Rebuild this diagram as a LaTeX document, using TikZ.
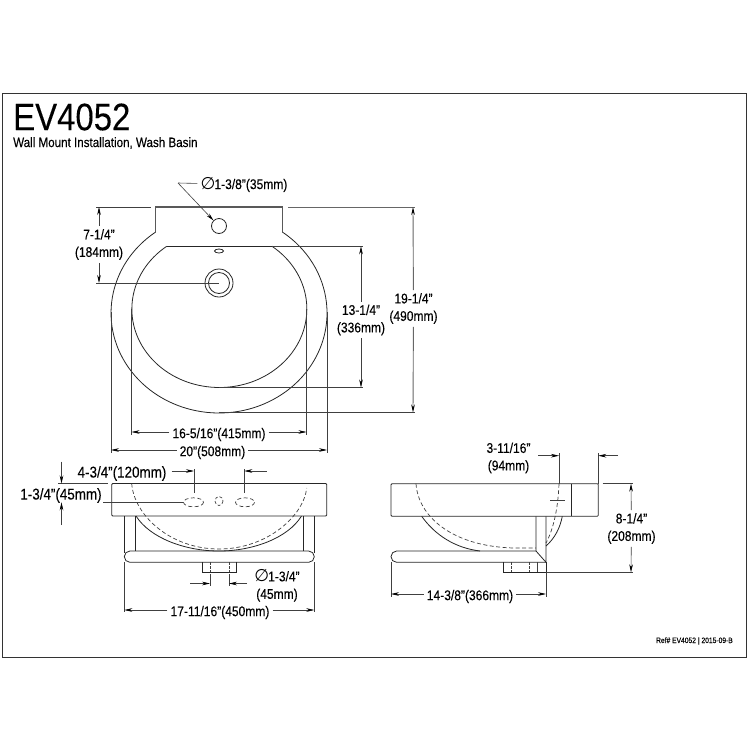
\documentclass[tikz,border=0pt]{standalone}
\usepackage{fontspec}
\setmainfont[FakeStretch=0.86,FakeBold=0.12]{Liberation Sans}
\newfontfamily\diafont{DejaVu Sans}
\usetikzlibrary{arrows.meta}
\newcommand{\dia}{{\diafont\fontsize{17}{17}\selectfont ∅}\hspace{-1pt}}
\tikzset{
  outline/.style={line width=0.8pt,black!85},
  hidden/.style={line width=0.7pt,black!75,dash pattern=on 4pt off 2.5pt},
  extline/.style={line width=0.6pt,black!75},
  dimline/.style={line width=0.6pt,black!75,-{Stealth[length=8pt,width=3.6pt,black]}},
  dimtext/.style={font=\fontsize{14}{17.5}\selectfont,inner sep=3pt,align=center,yshift=-1.5pt},
  dimwide/.style={dimtext,font=\fontsize{15.6}{17.5}\selectfont}
}
\begin{document}
\begin{tikzpicture}[x=1pt,y=-1pt]
\useasboundingbox (0,0) rectangle (750,750);
%%% frame and title %%%
  \draw[line width=0.9pt,black!80] (2.5,93) rectangle (746,657);
  \node (title) at (13,117) [anchor=west,inner sep=0pt,font=\fontsize{38.3}{40}\selectfont] {EV4052};
  \node (subtitle) at (13,143) [anchor=west,inner sep=0pt,font=\fontsize{13.5}{17}\selectfont] {Wall Mount Installation, Wash Basin};
  \node (ref) at (733,641) [anchor=east,inner sep=0pt,font=\fontsize{7.8}{9}\selectfont] {Ref\# EV4052 | 2015-09-B};

%%% top view %%%
  \draw[outline,line width=1.1pt,black!65] (155.7,232) -- (155.7,207) -- (282.7,207) -- (282.7,232);
  \draw[outline] (155.7,232) arc[start angle=234.1,end angle=-54.1,x radius=108,y radius=100];
  \draw[outline] (166.7,246.3) arc[start angle=233,end angle=-53,x radius=87.5,y radius=78.5];
  \draw[outline] (166.7,246.3) -- (272,246.3);
  \draw[outline] (219,226) circle (7.5);
  \draw[outline] (219,251) ellipse (4.5 and 2);
  \draw[outline] (219,283) circle (14) (219,283) circle (10.5);

  \draw[extline] (96,207) -- (150.7,207) (96,283) -- (219,283);
  \draw[extline] (272,246.3) -- (363,246.3) (219,387.5) -- (363,387.5);
  \draw[extline,black!60,line width=0.9pt] (288,207) -- (415,207);
  \draw[extline] (219,412.5) -- (415,412.5);
  \draw[extline] (131.5,309) -- (131.5,435) (306.5,309) -- (306.5,435);
  \draw[extline] (111,312) -- (111,453) (327,312) -- (327,453);

  \node (dHole) at (244,183) [dimtext] {\dia1-3/8"(35mm)};
  \coordinate (holeBend) at (178,183);
  \coordinate (holeTip) at (213.5,220.5);
  \draw[extline] (dHole) -- (holeBend);
  \draw[dimline] (holeBend) -- (holeTip);

  \node (dDrain) at (99,243) [dimtext] {7-1/4"\\(184mm)};
  \coordinate (dDrainA) at (99,207);
  \coordinate (dDrainB) at (99,283);
  \draw[dimline] (dDrain) -- (dDrainA);
  \draw[dimline] (dDrain) -- (dDrainB);

  \node (dBowlD) at (361,318.5) [dimtext] {13-1/4"\\(336mm)};
  \coordinate (dBowlDa) at (361,246.3);
  \coordinate (dBowlDb) at (361,387.5);
  \draw[dimline] (dBowlD) -- (dBowlDa);
  \draw[dimline] (dBowlD) -- (dBowlDb);

  \node (dDepth) at (413.5,307) [dimtext] {19-1/4"\\(490mm)};
  \coordinate (dDepthA) at (413,207);
  \coordinate (dDepthB) at (413,412.5);
  \draw[dimline,black!60,line width=0.9pt] (dDepth) -- (dDepthA);
  \draw[dimline,black!60,line width=0.9pt] (dDepth) -- (dDepthB);

  \node (dBowlW) at (219,433) [dimtext] {16-5/16"(415mm)};
  \coordinate (dBowlWa) at (131.5,432);
  \coordinate (dBowlWb) at (306.5,432);
  \draw[dimline] (dBowlW.west |- dBowlWa) -- (dBowlWa);
  \draw[dimline] (dBowlW.east |- dBowlWb) -- (dBowlWb);

  \node (dWidth) at (212.5,451) [dimtext] {20"(508mm)};
  \coordinate (dWidthA) at (111,450);
  \coordinate (dWidthB) at (327,450);
  \draw[dimline] (dWidth.west |- dWidthA) -- (dWidthA);
  \draw[dimline] (dWidth.east |- dWidthB) -- (dWidthB);

%%% front view %%%
  \draw[outline,rounded corners=1pt] (111.7,483.5) rectangle (326.7,516);
  \draw[outline,rounded corners=5.6pt] (124.3,551) rectangle (314.3,562.3);
  \draw[outline] (124.3,516) -- (124.3,553) (135,516) -- (135,551)
     (303.3,516) -- (303.3,551) (314.3,516) -- (314.3,553);
  \draw[outline] (136,516) .. controls (150,538) and (185,551) .. (219,551)
     .. controls (253,551) and (288,538) .. (301.5,516);
  \draw[hidden] (131.7,483.5) .. controls (134,515) and (170,549) .. (219,549)
     .. controls (268,549) and (304,515) .. (306.7,488);
  \draw[hidden] (193.5,502.3) ellipse (10 and 4.5);
  \draw[hidden] (245,502.3) ellipse (9.5 and 4.5);
  \draw[hidden,dash pattern=on 3pt off 2pt] (219,501) ellipse (4 and 4.5);
  \draw[outline] (202.3,562.3) -- (202.3,572.3) -- (236.7,572.3) -- (236.7,562.3);
  \draw[hidden,dash pattern=on 2.5pt off 1.5pt] (210,562.3) -- (210,572) (229,562.3) -- (229,572);

  \draw[extline] (58,483.5) -- (108,483.5) (58,502.3) -- (183,502.3);
  \draw[extline] (194,469) -- (194,493) (244.3,469) -- (244.3,493);
  \draw[extline] (210,574) -- (210,586) (229,574) -- (229,586);
  \draw[extline] (124.3,562.3) -- (124.3,612) (314.3,562.3) -- (314.3,612);

  \node (dThick) at (61,494) [dimwide,fill=white,inner sep=1pt] {1-3/4"(45mm)};
  \coordinate (dThickA) at (61.5,461.5);
  \coordinate (dThickB) at (61.5,483.5);
  \coordinate (dThickC) at (61.5,525);
  \coordinate (dThickD) at (61.5,502.3);
  \draw[dimline] (dThickA) -- (dThickB);
  \draw[dimline] (dThickC) -- (dThickD);

  \node (dCentres) at (122,472) [dimwide] {4-3/4"(120mm)};
  \coordinate (dCentresA) at (171.5,471);
  \coordinate (dCentresB) at (194,471);
  \coordinate (dCentresC) at (266.7,471);
  \coordinate (dCentresD) at (244.3,471);
  \draw[dimline] (dCentresA) -- (dCentresB);
  \draw[dimline] (dCentresC) -- (dCentresD);

  \node (dStub) at (277,584) [dimtext] {\dia1-3/4"\\(45mm)};
  \coordinate (dStubA) at (190,583.5);
  \coordinate (dStubB) at (210,583.5);
  \coordinate (dStubC) at (247,583.5);
  \coordinate (dStubD) at (229,583.5);
  \draw[dimline] (dStubA) -- (dStubB);
  \draw[dimline] (dStubC) -- (dStubD);

  \node (dBar) at (220,611) [dimtext] {17-11/16"(450mm)};
  \coordinate (dBarA) at (124.3,610);
  \coordinate (dBarB) at (314.3,610);
  \draw[dimline] (dBar.west |- dBarA) -- (dBarA);
  \draw[dimline] (dBar.east |- dBarB) -- (dBarB);

%%% side view %%%
  \draw[outline,rounded corners=1pt] (391,483.7) rectangle (598.3,516.3);
  \draw[outline] (571.7,483.7) -- (571.7,516.3);
  \draw[outline,rounded corners=5.6pt] (546,562.3) -- (391,562.3) -- (391,551) -- (536,551);
  \draw[outline] (536,516.3) -- (536,551) -- (546,562.3) -- (546,516.3);
  \draw[outline] (421.7,516.3) .. controls (435,535) and (455,548) .. (480,551);
  \draw[outline] (562.3,516.3) .. controls (560,528) and (555,538) .. (546,546);
  \draw[hidden] (416,483.7) .. controls (418,515) and (450,546) .. (513,548) -- (536,548);
  \draw[hidden] (559,483.7) .. controls (558,510) and (553,530) .. (546,543);
  \draw[extline] (550,500) -- (565,500);
  \draw[outline] (503.3,562.3) -- (503.3,572.3) -- (546,572.3) -- (546,562.3);
  \draw[hidden,dash pattern=on 2.5pt off 1.5pt] (511,562.3) -- (511,572) (529,562.3) -- (529,572);
  \draw[extline] (537,562.3) -- (537,572.3);

  \draw[extline] (559,453) -- (559,483.7) (598.3,453) -- (598.3,483.7);
  \draw[extline] (602.7,483.7) -- (633,483.7) (546,572.3) -- (633,572.3);
  \draw[extline] (391,562.3) -- (391,597) (546,572.3) -- (546,597);

  \node (dSetback) at (508.5,456.5) [dimtext] {3-11/16"\\(94mm)};
  \coordinate (dSetbackA) at (538,455.7);
  \coordinate (dSetbackB) at (559,455.7);
  \coordinate (dSetbackC) at (618,455.7);
  \coordinate (dSetbackD) at (598.3,455.7);
  \draw[dimline] (dSetbackA) -- (dSetbackB);
  \draw[dimline] (dSetbackC) -- (dSetbackD);

  \node (dHeight) at (631.5,527) [dimtext] {8-1/4"\\(208mm)};
  \coordinate (dHeightA) at (631,483.7);
  \coordinate (dHeightB) at (631,572.3);
  \draw[dimline] (dHeight) -- (dHeightA);
  \draw[dimline] (dHeight) -- (dHeightB);

  \node (dProj) at (470,595) [dimtext] {14-3/8"(366mm)};
  \coordinate (dProjA) at (391,594);
  \coordinate (dProjB) at (546,594);
  \draw[dimline] (dProj.west |- dProjA) -- (dProjA);
  \draw[dimline] (dProj.east |- dProjB) -- (dProjB);
\end{tikzpicture}
\end{document}
